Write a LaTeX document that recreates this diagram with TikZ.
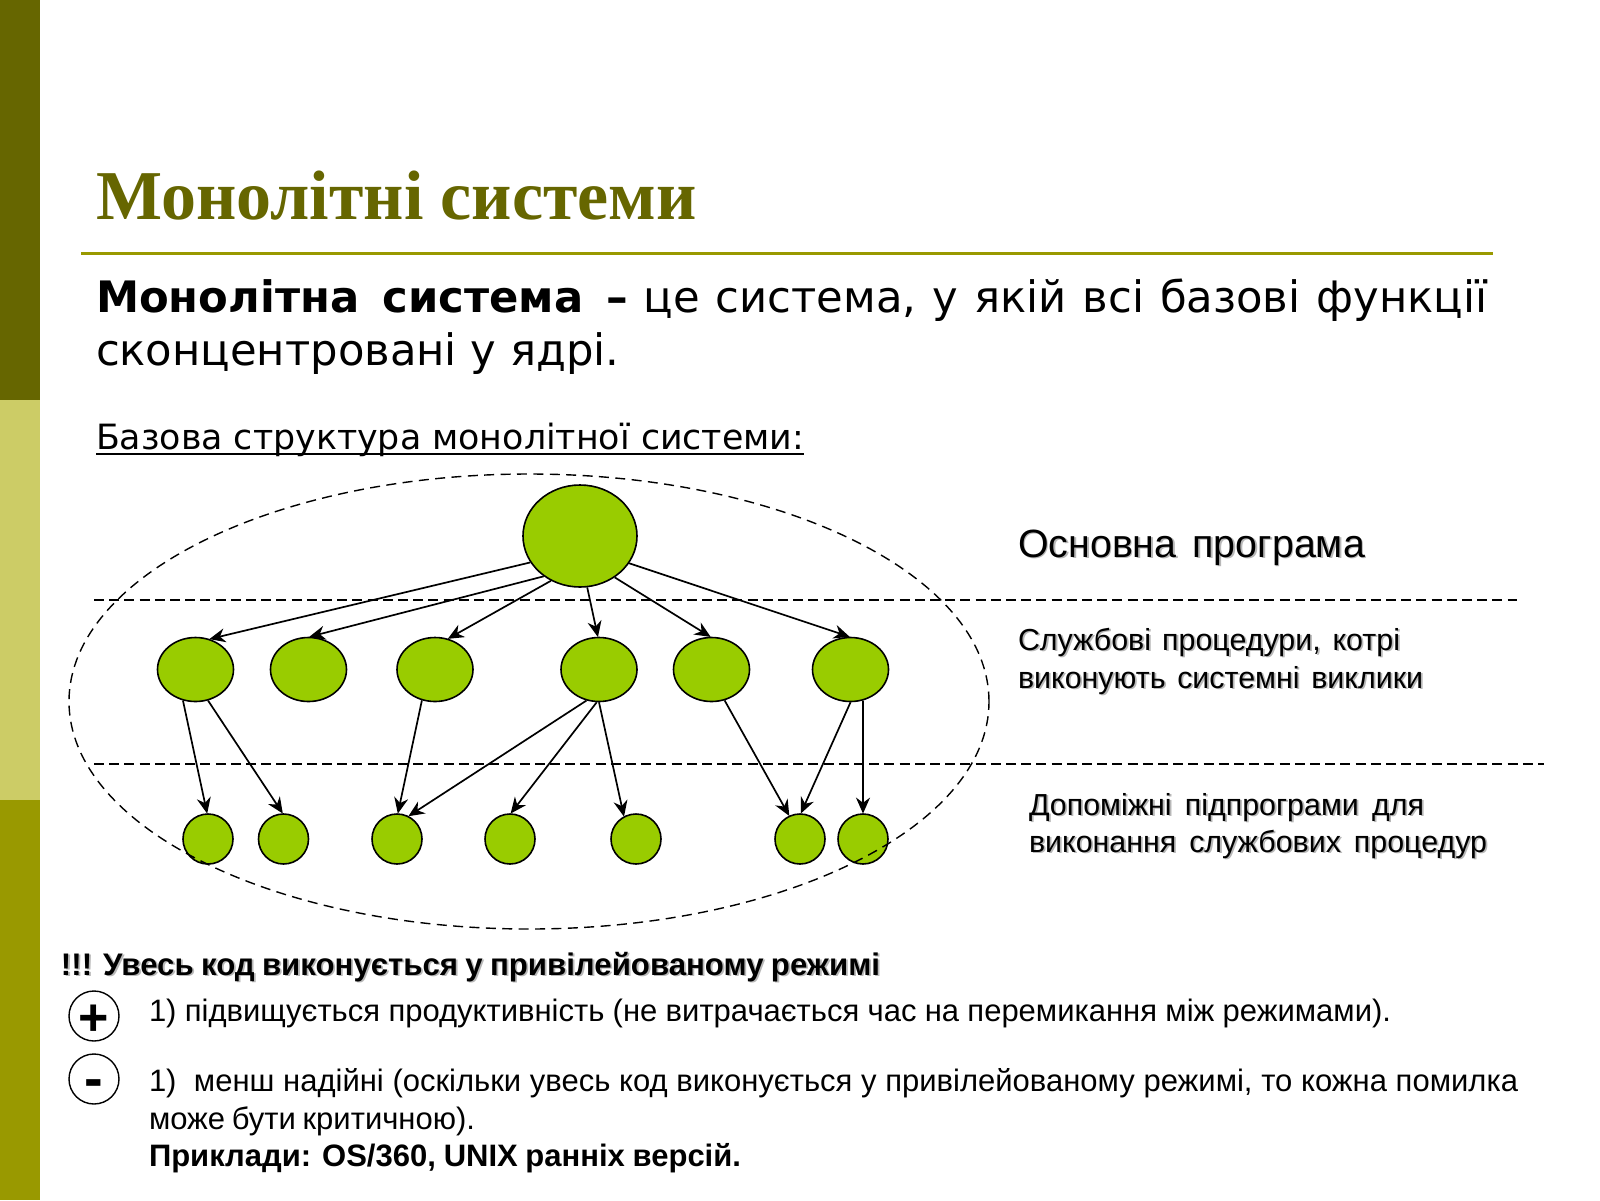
\documentclass[tikz,border=0pt]{standalone}
\usepackage{fontspec}
\setmainfont{Liberation Sans}
\newfontfamily\titlefont{Liberation Serif}
\newfontfamily\bodyfont{DejaVu Sans}
\usetikzlibrary{arrows.meta,shapes.geometric}
\definecolor{olivedark}{HTML}{666600}
\definecolor{olivelight}{HTML}{CCCC66}
\definecolor{olivemid}{HTML}{999900}
\definecolor{nodegreen}{HTML}{99CC00}
\newcommand\fitline[2]{\makebox[\dimexpr#1pt/2\relax][s]{#2}}
\newcommand\shadowline[2]{\leavevmode\rlap{\raisebox{-0.9pt}{\kern0.9pt\textcolor{black!28}{\fitline{#1}{#2}}}}\fitline{#1}{#2}}
\tikzset{
  x=0.5pt,y=-0.5pt,
  txt/.style={anchor=base west,inner sep=0pt,outer sep=0pt,text=black},
  big/.style={ellipse,draw=black,fill=nodegreen,line width=0.8pt,minimum width=57pt,minimum height=51pt,inner sep=0pt},
  mid/.style={ellipse,draw=black,fill=nodegreen,line width=0.8pt,minimum width=38pt,minimum height=32pt,inner sep=0pt},
  low/.style={circle,draw=black,fill=nodegreen,line width=0.8pt,minimum size=25pt,inner sep=0pt},
  sign/.style={circle,draw=black,fill=white,line width=0.7pt,minimum size=25pt,inner sep=0pt},
  conn/.style={draw=black,line width=0.85pt,-{Stealth[length=8pt,width=7pt]},shorten >=-0.2pt},
  sep/.style={draw=black,line width=0.6pt,dash pattern=on 5pt off 2.6pt},
  outer/.style={ellipse,draw=black,line width=0.7pt,dash pattern=on 5pt off 3.2pt,minimum width=460pt,minimum height=227.5pt,inner sep=0pt}
}
\begin{document}
\begin{tikzpicture}
\useasboundingbox (0,0) rectangle (1600,1200);
\fill[white] (0,0) rectangle (1600,1200);
\fill[olivedark] (0,0) rectangle (40,400);
\fill[olivelight] (0,400) rectangle (40,800);
\fill[olivemid] (0,800) rectangle (40,1200);

\node[txt,text=olivedark,font=\titlefont\bfseries\fontsize{35}{35}\selectfont] (title) at (96,219) {Монолітні системи};
\draw[olivemid,line width=1.5pt] (81,253) -- (1493,253);

\node[txt,font=\bodyfont\fontsize{21.66}{22}\selectfont] (def1) at (96,312) {\fitline{1391}{\fitline{532}{\textbf{Монолітна система –}} це система, у якій всі базові функції}};
\node[txt,font=\bodyfont\fontsize{21.66}{22}\selectfont] (def2) at (96,365) {сконцентровані у ядрі.};
\node[txt,font=\bodyfont\fontsize{17.4}{17}\selectfont] (sub) at (96,449) {Базова структура монолітної системи:};
\draw[black,line width=0.8pt] ([yshift=-2.6pt]sub.base west) -- ([yshift=-2.6pt]sub.base east);

\node[big] (top) at (580,536) {};
\foreach \n/\x in {m1/195.5,m2/308.5,m3/435,m4/599,m5/711.5,m6/850.5}
  \node[mid] (\n) at (\x,669.5) {};
\foreach \n/\x in {b1/208,b2/283.5,b3/397,b4/510,b5/636,b6/800,b7/863}
  \node[low] (\n) at (\x,839) {};

\draw[conn] (top.208) -- (m1.65);
\draw[conn] (top.228) -- (m2.88);
\draw[conn] (top.237) -- (m3.67);
\draw[conn] (top.278) -- (m4.92);
\draw[conn] (top.310) -- (m5.92);
\draw[conn] (top.331) -- (m6.92);
\draw[conn] (m1.248) -- (b1.92);
\draw[conn] (m1.292) -- (b2.92);
\draw[conn] (m3.247) -- (b3.88);
\draw[conn] (m4.248) -- (b3.63);
\draw[conn] (m4.266) -- (b4.88);
\draw[conn] (m4.270) -- (b5.118);
\draw[conn] (m5.293) -- (b6.115);
\draw[conn] (m6.270) -- (b6.88);
\draw[conn] (m6.292) -- (b7.90);

\node[outer] (zone) at (529,701.5) {};
\coordinate (s1a) at (94,600);
\coordinate (s1b) at (1517,600);
\coordinate (s2a) at (94,764);
\coordinate (s2b) at (1544,764);
\draw[sep] (s1a) -- (s1b);
\draw[sep] (s2a) -- (s2b);

\node[txt,font=\fontsize{19.7}{20}\selectfont] (l1) at (1018,557) {\shadowline{347}{Основна програма}};
\node[txt,font=\fontsize{15.2}{16}\selectfont] (l2a) at (1018,650) {\shadowline{382}{Службові процедури, котрі}};
\node[txt,font=\fontsize{15.2}{16}\selectfont] (l2b) at (1018,688) {\shadowline{405}{виконують системні виклики}};
\node[txt,font=\fontsize{15.2}{16}\selectfont] (l3a) at (1029,815) {\shadowline{395}{Допоміжні підпрограми для}};
\node[txt,font=\fontsize{15.2}{16}\selectfont] (l3b) at (1029,852) {\shadowline{458}{виконання службових процедур}};

\node[txt,font=\bfseries\fontsize{15.6}{16}\selectfont] (warn) at (61,975) {\shadowline{819}{!!! Увесь код виконується у привілейованому режимі}};

\node[sign] (plus) at (94,1016) {};
\node[sign] (minus) at (94,1079) {};
\node[anchor=center,inner sep=0pt,font=\bfseries\fontsize{26}{26}\selectfont] (plusT) at (94,1020) {+};
\node[anchor=center,inner sep=0pt,font=\bfseries\fontsize{28}{28}\selectfont] (minusT) at (94,1089) {-};

\node[txt,font=\fontsize{15.5}{16}\selectfont] (p1) at (149,1021) {\fitline{1242}{1) підвищується продуктивність (не витрачається час на перемикання між режимами).}};
\node[txt,font=\fontsize{15.5}{16}\selectfont] (n1) at (149,1091) {\fitline{1369}{1)\ \ менш надійні (оскільки увесь код виконується у привілейованому режимі, то кожна помилка}};
\node[txt,font=\fontsize{15.5}{16}\selectfont] (n2) at (149,1129) {\fitline{326}{може бути критичною).}};
\node[txt,font=\bfseries\fontsize{15.5}{16}\selectfont] (n3) at (149,1166) {\fitline{592}{Приклади: OS/360, UNIX ранніх версій.}};
\end{tikzpicture}
\end{document}
